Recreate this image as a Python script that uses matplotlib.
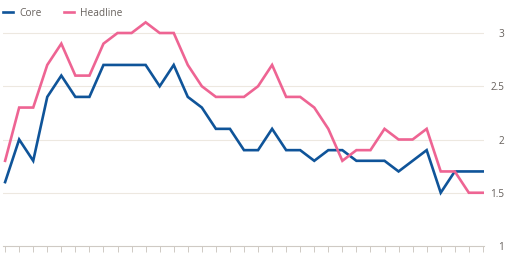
import matplotlib
matplotlib.use("Agg")
import matplotlib.pyplot as plt
import numpy as np

core = [1.6, 2.0, 1.8, 2.4, 2.6, 2.4, 2.4, 2.7, 2.7, 2.7, 2.7, 2.5, 2.7, 2.4, 2.3,
        2.1, 2.1, 1.9, 1.9, 2.1, 1.9, 1.9, 1.8, 1.9, 1.9, 1.8, 1.8, 1.8, 1.7, 1.8,
        1.9, 1.5, 1.7, 1.7, 1.7]
headline = [1.8, 2.3, 2.3, 2.7, 2.9, 2.6, 2.6, 2.9, 3.0, 3.0, 3.1, 3.0, 3.0, 2.7, 2.5,
            2.4, 2.4, 2.4, 2.5, 2.7, 2.4, 2.4, 2.3, 2.1, 1.8, 1.9, 1.9, 2.1, 2.0, 2.0,
            2.1, 1.7, 1.7, 1.5, 1.5]
yticks = [1, 1.5, 2, 2.5, 3]
ylabels = ["1", "1.5", "2", "2.5", "3"]

plt.rcParams['font.family'] = ['Open Sans', 'DejaVu Sans']
W, H = 508, 258
fig = plt.figure(figsize=(W/100, H/100), dpi=100)
# axes box in pixels: left 3, right 484, top 6, bottom 246
ax = fig.add_axes([3/W, (H-246)/H, (484-3)/W, (246-6)/H])
x = np.arange(len(core))
ax.plot(x, core, color='#0f5499', lw=1.9, label='Core', solid_joinstyle='miter')
ax.plot(x, headline, color='#ee6493', lw=1.9, label='Headline', solid_joinstyle='miter')

ax.set_xlim(-0.15, len(core) - 1 + 0.08)
ax.set_ylim(1, 3 + (33 - 6) / 106.5)
for s in ['top', 'left', 'right']:
    ax.spines[s].set_visible(False)
ax.spines['bottom'].set_color('#cfcac4')
ax.spines['bottom'].set_linewidth(0.8)
ax.set_xticks(x)
ax.set_xticklabels([])
ax.tick_params(axis='x', length=4.5, width=0.7, color='#cfcac4', direction='out')
ax.set_yticks(yticks)
ax.set_yticklabels(ylabels)
ax.yaxis.tick_right()
ax.tick_params(axis='y', length=0, pad=14.5, labelsize=7.2, labelcolor='#66605c')
for lab in ax.get_yticklabels():
    lab.set_horizontalalignment('right')
for yv in yticks[1:]:
    ax.axhline(yv, color='#ede8e0', lw=0.8, zorder=0)

leg = fig.legend(loc='upper left', bbox_to_anchor=(-0.012, 1.005), ncol=2, frameon=False,
                 fontsize=7.3, handlelength=1.0, handletextpad=0.6, columnspacing=2.2,
                 labelcolor='#66605c')
for h in leg.get_lines():
    h.set_linewidth(1.9)

fig.savefig("out.png", dpi=100)
